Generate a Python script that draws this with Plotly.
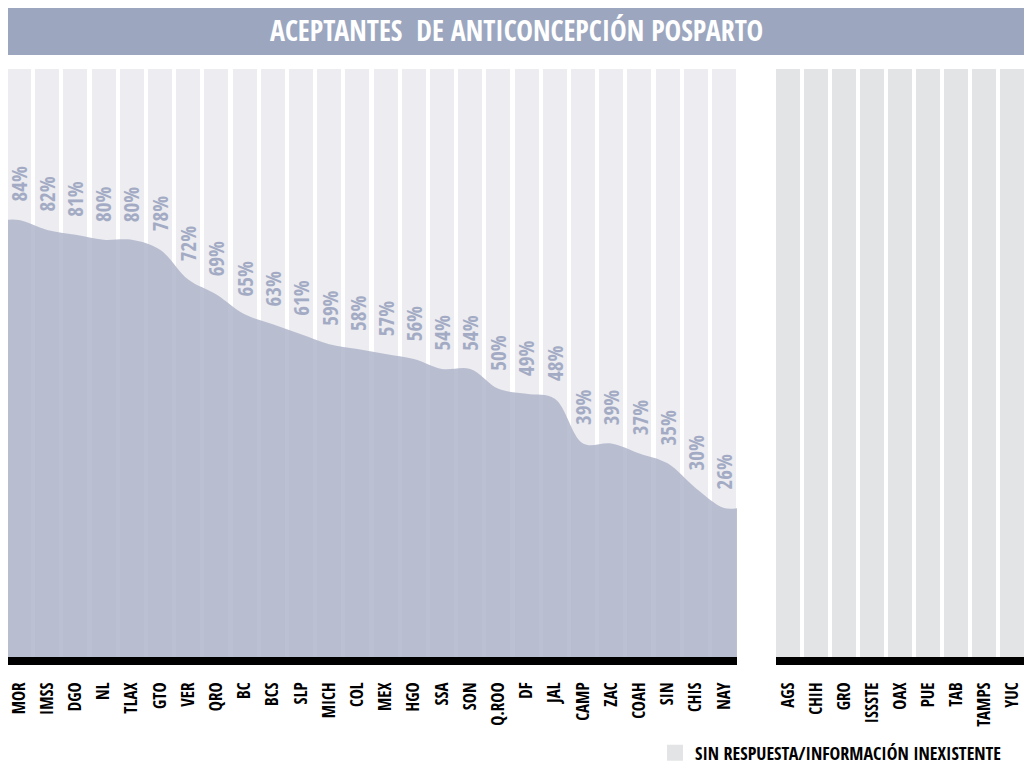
import plotly.graph_objects as go
import numpy as np

# ---------------- data ----------------
categories = ["MOR", "IMSS", "DGO", "NL", "TLAX", "GTO", "VER", "QRO", "BC", "BCS",
              "SLP", "MICH", "COL", "MEX", "HGO", "SSA", "SON", "Q.ROO", "DF", "JAL",
              "CAMP", "ZAC", "COAH", "SIN", "CHIS", "NAY"]
values = [84, 82, 81, 80, 80, 78, 72, 69, 65, 63,
          61, 59, 58, 57, 56, 54, 54, 50, 49, 48,
          39, 39, 37, 35, 30, 26]
no_data_categories = ["AGS", "CHIH", "GRO", "ISSSTE", "OAX", "PUE", "TAB", "TAMPS", "YUC"]

title_text = "ACEPTANTES  DE ANTICONCEPCIÓN POSPARTO"
legend_text = "SIN RESPUESTA/INFORMACIÓN INEXISTENTE"

# ---------------- styles ----------------
W, H = 1024, 758          # page body adds an 8px margin
M_L, M_R, M_T, M_B = 0, 7, 61, 109
Y_MIN, Y_MAX = -4.0, 114.4
COL_BG = "#ececf1"
COL_NODATA = "#e3e4e6"
COL_AREA = "rgba(175,181,202,0.85)"
COL_LABEL = "#a3abc4"
COL_TITLE_BAR = "#9ca7bf"
FONT = "Open Sans Condensed, Roboto Condensed, DejaVu Sans Condensed, sans-serif"

n = len(categories)
m = len(no_data_categories)
xs = np.arange(n)
xs2 = np.arange(m)

plot_w = W - M_L - M_R
plot_h = H - M_T - M_B

PITCH1, PITCH2 = 28.2, 28.0
left_end_px, right_start_px = 729, 768
dom1 = [0, left_end_px / plot_w]
dom2 = [right_start_px / plot_w, 1.0]
r1_0 = -11 / PITCH1
range1 = [r1_0, r1_0 + left_end_px / PITCH1]
r2_0 = -12 / PITCH2
range2 = [r2_0, r2_0 + (plot_w - right_start_px) / PITCH2]

fig = go.Figure()

fig.add_trace(go.Bar(x=xs, y=[Y_MAX - Y_MIN] * n, base=Y_MIN, width=24 / PITCH1,
                     marker=dict(color=COL_BG, line=dict(width=0)),
                     xaxis="x", yaxis="y", showlegend=False, hoverinfo="skip"))

x_ext = np.concatenate([[xs[0] - 0.5], xs, [xs[-1] + 0.5]])
y_ext = [values[0]] + values + [values[-1]]
fig.add_trace(go.Scatter(x=[x_ext[0], x_ext[-1]], y=[Y_MIN, Y_MIN], mode="lines",
                         line=dict(width=0, color="rgba(0,0,0,0)"),
                         xaxis="x", yaxis="y", showlegend=False, hoverinfo="skip"))
fig.add_trace(go.Scatter(x=x_ext, y=y_ext, mode="lines",
                         line=dict(width=0, shape="spline", smoothing=1.0, color=COL_AREA),
                         fill="tonexty", fillcolor=COL_AREA,
                         xaxis="x", yaxis="y", showlegend=False))

fig.add_trace(go.Bar(x=xs2, y=[Y_MAX - Y_MIN] * m, base=Y_MIN, width=24 / PITCH2,
                     marker=dict(color=COL_NODATA, line=dict(width=0)),
                     xaxis="x2", yaxis="y", showlegend=False, hoverinfo="skip"))

fig.add_trace(go.Scatter(x=[None], y=[None], mode="markers", name=legend_text,
                         marker=dict(symbol="square", size=22, color=COL_NODATA),
                         xaxis="x2", yaxis="y", showlegend=True))

for i, v in enumerate(values):
    fig.add_annotation(x=xs[i], y=v, xref="x", yref="y", text=f"{v}%",
                       textangle=-90, showarrow=False, xanchor="center", yanchor="bottom",
                       yshift=16, font=dict(family=FONT, size=21, color=COL_LABEL, weight="bold"))

fig.add_shape(type="rect", xref="paper", yref="paper",
              x0=-0.002, x1=1, y0=(plot_h + M_T - 47) / plot_h, y1=(plot_h + M_T + 1) / plot_h,
              fillcolor=COL_TITLE_BAR, line=dict(width=0), layer="below")
for xr in ["x domain", "x2 domain"]:
    fig.add_shape(type="rect", xref=xr, yref="paper", x0=0, x1=1,
                  y0=-8 / plot_h, y1=0, fillcolor="black", line=dict(width=0))

tickfont = dict(family=FONT, size=17, color="black", weight="bold")
fig.update_layout(
    width=W, height=H,
    margin=dict(l=M_L, r=M_R, t=M_T, b=M_B, pad=0, autoexpand=False),
    paper_bgcolor="white", plot_bgcolor="white",
    barmode="overlay", bargap=0,
    title=dict(text=title_text, x=0.5, xanchor="center", xref="paper",
               y=1 - 23 / H, yanchor="middle", yref="container",
               font=dict(family=FONT, size=28, color="white", weight="bold")),
    xaxis=dict(domain=dom1, range=range1, tickvals=xs, ticktext=categories,
               tickangle=-90, showgrid=False, zeroline=False, showline=False,
               ticks="", ticklabelstandoff=21, ticklabeloverflow="allow",
               tickfont=tickfont, anchor="y"),
    xaxis2=dict(domain=dom2, range=range2, tickvals=xs2, ticktext=no_data_categories,
                tickangle=-90, showgrid=False, zeroline=False, showline=False,
                ticks="", ticklabelstandoff=21, ticklabeloverflow="allow",
                tickfont=tickfont, anchor="y"),
    yaxis=dict(range=[Y_MIN, Y_MAX], visible=False, fixedrange=True),
    showlegend=True,
    legend=dict(x=647 / plot_w, y=(plot_h - (745 - M_T)) / plot_h, xanchor="left", yanchor="middle",
                xref="paper", yref="paper", bgcolor="rgba(0,0,0,0)",
                font=dict(family=FONT, size=18, color="black", weight="bold")),
)

fig.write_html("out.html")
